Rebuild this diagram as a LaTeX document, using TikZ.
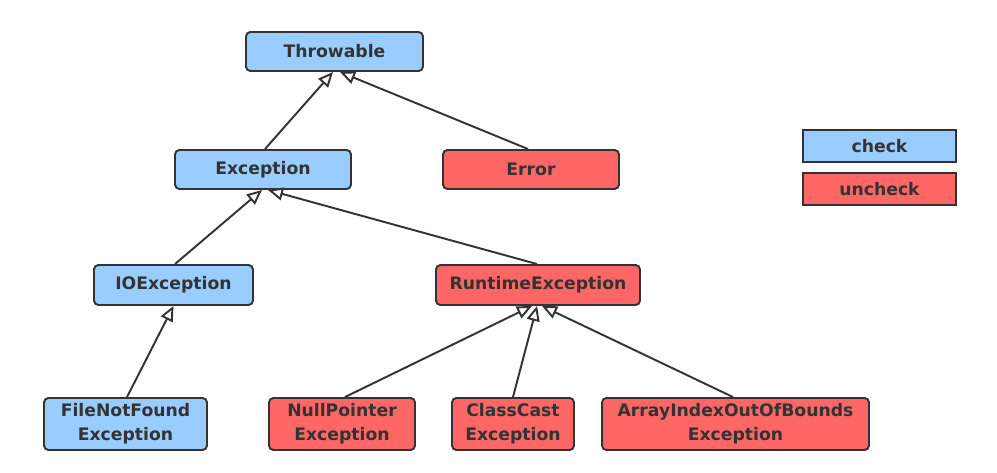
\documentclass[tikz,border=0pt]{standalone}
\usepackage{fontspec}
\setmainfont{DejaVu Sans}
\usetikzlibrary{arrows.meta}
\definecolor{checkblue}{HTML}{99CCFF}
\definecolor{uncheckred}{HTML}{FF6666}
\definecolor{inkgray}{HTML}{333333}
\begin{document}
\begin{tikzpicture}
    [x=0.02cm, y=-0.02cm,
     cls/.style={draw=inkgray, line width=1.1pt, rounded corners=2.5pt, text=inkgray,
        font=\fontsize{9.8}{13.5}\selectfont\bfseries, align=center, inner sep=0pt},
     chk/.style={cls, fill=checkblue},
     unchk/.style={cls, fill=uncheckred},
     inherit/.style={draw=inkgray, line width=1.1pt,
        -{Triangle[open, length=0.3cm, width=0.26cm, fill=white]}}]
    \useasboundingbox (0,0) rectangle (997,473);

    \node[chk, minimum width=3.54cm, minimum height=0.78cm] (T) at (334.5,51.5) {Throwable};
    \node[chk, minimum width=3.52cm, minimum height=0.78cm] (E) at (263,169.5) {Exception};
    \node[unchk, minimum width=3.52cm, minimum height=0.78cm] (R) at (531,169.5) {Error};
    \node[chk, minimum width=3.18cm, minimum height=0.8cm] (IO) at (173.5,285) {IOException};
    \node[unchk, minimum width=4.08cm, minimum height=0.8cm] (RT) at (538,285) {RuntimeException};
    \node[chk, minimum width=3.26cm, minimum height=1.04cm] (FNF) at (125.5,424) {FileNotFound\\Exception};
    \node[unchk, minimum width=2.92cm, minimum height=1.04cm] (NP) at (342,424) {NullPointer\\Exception};
    \node[unchk, minimum width=2.44cm, minimum height=1.04cm] (CC) at (513,424) {ClassCast\\Exception};
    \node[unchk, minimum width=5.34cm, minimum height=1.04cm] (AI) at (735.5,424) {ArrayIndexOutOfBounds\\Exception};

    % legend
    \node[chk, rounded corners=0pt, minimum width=3.06cm, minimum height=0.64cm] (LC) at (879.5,146) {check};
    \node[unchk, rounded corners=0pt, minimum width=3.06cm, minimum height=0.64cm] (LU) at (879.5,189) {uncheck};

    \draw[inherit] ([xshift=0.04cm]E.north) -- ([xshift=-0.03cm]T.south);
    \draw[inherit] ([xshift=-0.06cm]R.north) -- ([xshift=0.11cm]T.south);
    \draw[inherit] ([xshift=0.03cm]IO.north) -- ([xshift=-0.02cm]E.south);
    \draw[inherit] ([xshift=-0.02cm]RT.north) -- ([xshift=0.1cm]E.south);
    \draw[inherit] ([xshift=0.03cm]FNF.north) -- (IO.south);
    \draw[inherit] ([xshift=0.06cm]NP.north) -- ([xshift=-0.12cm]RT.south);
    \draw[inherit] (CC.north) -- ([xshift=-0.02cm]RT.south);
    \draw[inherit] ([xshift=-0.05cm]AI.north) -- ([xshift=0.08cm]RT.south);

\end{tikzpicture}
\end{document}
